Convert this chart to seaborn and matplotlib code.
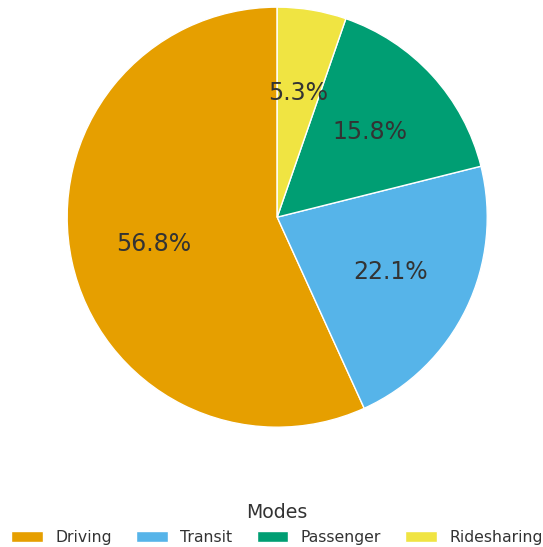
import matplotlib
matplotlib.use("Agg")
import matplotlib.pyplot as plt
import seaborn as sns

# mode share data
modes = ["Driving", "Transit", "Passenger", "Ridesharing"]
shares = [56.8, 22.1, 15.8, 5.3]
colors = ["#E69F00", "#56B4E9", "#009E73", "#F0E442"]

sns.set_theme(style="white")
plt.rcParams['font.family'] = ['DejaVu Sans']

fig = plt.figure(figsize=(5.43, 5.47), dpi=100, facecolor='white')
ax = fig.add_axes([0.027, 0.123, 0.967, 0.96])

wedges, texts, autotexts = ax.pie(
    shares, colors=colors, startangle=90, counterclock=True,
    autopct='%1.1f%%', pctdistance=0.6,
    wedgeprops=dict(edgecolor='white', linewidth=1),
    textprops=dict(fontsize=17, color='#333333'))
ax.set_aspect('equal')

leg = fig.legend(wedges, modes, title="Modes", loc='lower center',
                 bbox_to_anchor=(0.51, -0.022), ncol=4, frameon=False,
                 fontsize=11.3, title_fontsize=13.6,
                 handlelength=2.0, handletextpad=0.8, columnspacing=1.55)
for t in leg.get_texts():
    t.set_color('#333333')
leg.get_title().set_color('#333333')

fig.savefig("out.png", dpi=100, facecolor='white')
